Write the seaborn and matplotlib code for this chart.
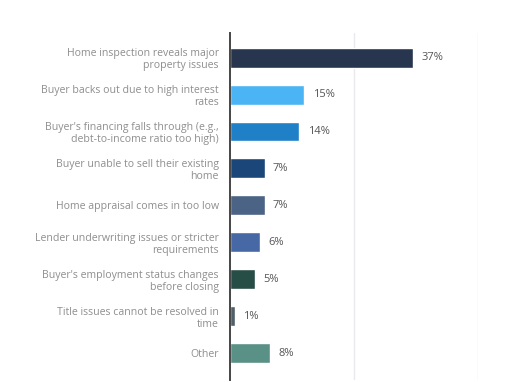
import matplotlib
matplotlib.use("Agg")
import matplotlib.pyplot as plt
import numpy as np
import pandas as pd
import seaborn as sns

reasons = [
    "Home inspection reveals major\nproperty issues",
    "Buyer backs out due to high interest\nrates",
    "Buyer's financing falls through (e.g.,\ndebt-to-income ratio too high)",
    "Buyer unable to sell their existing\nhome",
    "Home appraisal comes in too low",
    "Lender underwriting issues or stricter\nrequirements",
    "Buyer's employment status changes\nbefore closing",
    "Title issues cannot be resolved in\ntime",
    "Other",
]
shares = [37, 15, 14, 7, 7, 6, 5, 1, 8]
colors = ["#27354f", "#4ab4f5", "#1f80c8", "#1b467a", "#4b6384",
          "#4669a6", "#274e46", "#505f68", "#5a9186"]

df = pd.DataFrame({"reason": reasons, "share": shares})

sns.set_style("white")
plt.rcParams["font.family"] = ["Open Sans", "DejaVu Sans"]

fig = plt.figure(figsize=(5.1, 3.82), dpi=100)
ax = fig.add_axes([0.451, 0.005, 0.486, 0.909])

sns.barplot(data=df, x="share", y="reason", hue="reason", palette=colors,
            legend=False, width=0.54, ax=ax, saturation=1)

ax.set_xlim(0, 50)
ax.set_ylim(8.73, -0.67)
ax.set_xticks([25, 50])
ax.xaxis.grid(True, color="#e9e9ee", linewidth=1)
ax.set_axisbelow(True)
ax.tick_params(axis="x", length=0, labelbottom=False)
ax.tick_params(axis="y", length=0, pad=8, labelsize=7.6, labelcolor="#8e8e8e")
for lab in ax.get_yticklabels():
    lab.set_horizontalalignment("right")
    lab.set_multialignment("right")
    lab.set_linespacing(1.15)
ax.set_xlabel("")
ax.set_ylabel("")
for s in ["top", "right", "bottom"]:
    ax.spines[s].set_visible(False)
ax.spines["left"].set_color("#454545")
ax.spines["left"].set_linewidth(1.4)

for i, v in enumerate(shares):
    ax.annotate(f"{v}%", (v, i), xytext=(6, 0), textcoords="offset points",
                va="center", ha="left", fontsize=8, color="#555555")

fig.savefig("out.png", dpi=100)
